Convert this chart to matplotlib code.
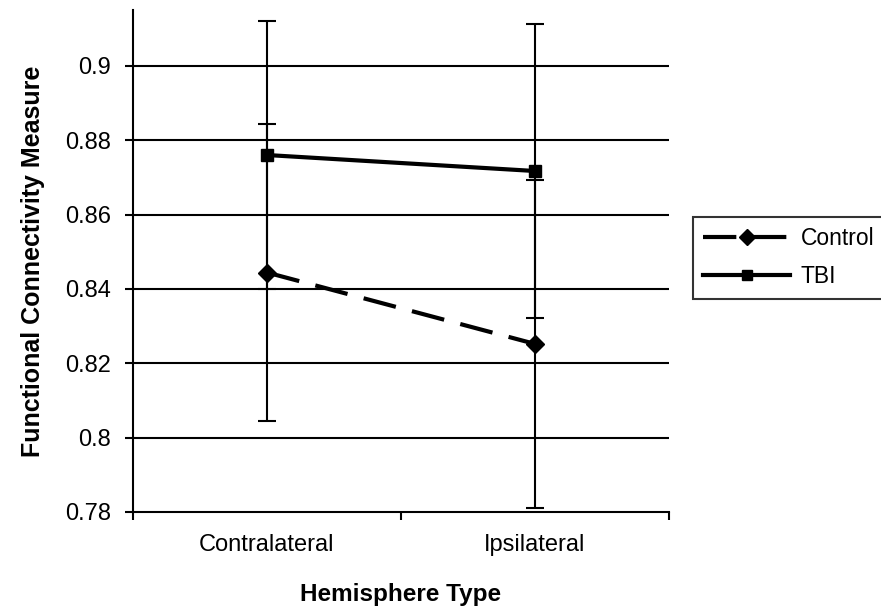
import numpy as np
import matplotlib
matplotlib.use("Agg")
import matplotlib.pyplot as plt

plt.rcParams['font.family'] = ['Liberation Sans', 'DejaVu Sans']

# Group means and error bar half-widths per hemisphere
hemispheres = ['Contralateral', 'Ipsilateral']
control_mean = [0.8444, 0.8252]
control_err = [0.040, 0.044]
tbi_mean = [0.876, 0.8717]
tbi_err = [0.036, 0.0396]
y_ticks = [0.78, 0.8, 0.82, 0.84, 0.86, 0.88, 0.9]

fig = plt.figure(figsize=(8.81, 6.12), dpi=100)
ax = fig.add_axes([133 / 881, 1 - 512 / 612, (669 - 133) / 881, (512 - 10) / 612])

x = np.arange(len(hemispheres)) + 0.5

# horizontal gridlines
for yv in y_ticks[1:]:
    ax.axhline(yv, color='black', lw=1.5, zorder=1)

ax.errorbar(x, control_mean, yerr=control_err, fmt='none', ecolor='black',
            elinewidth=1.5, capsize=6.5, capthick=1.5, zorder=2)
ax.errorbar(x, tbi_mean, yerr=tbi_err, fmt='none', ecolor='black',
            elinewidth=1.5, capsize=6.5, capthick=1.5, zorder=2)

ax.plot(x, control_mean, color='black', lw=3, dashes=(8, 4), marker='D',
        markersize=9, label='Control', zorder=3)
ax.plot(x, tbi_mean, color='black', lw=3, marker='s', markersize=8,
        label='TBI', zorder=3)

ax.set_xlim(0, 2)
ax.set_ylim(0.78, 0.915)
ax.set_yticks(y_ticks)
ax.set_yticklabels(['0.78', '0.8', '0.82', '0.84', '0.86', '0.88', '0.9'])
ax.set_xticks([0, 1, 2])
ax.set_xticklabels([])
ax.set_xticks(x, minor=True)
ax.set_xticklabels(hemispheres, minor=True)
ax.tick_params(axis='x', which='major', length=6, width=1.5, direction='out')
ax.tick_params(axis='x', which='minor', length=0, pad=16, labelsize=17)
ax.tick_params(axis='y', length=6, width=1.5, direction='out', pad=10, labelsize=17)

for side in ['top', 'right']:
    ax.spines[side].set_visible(False)
ax.spines['left'].set_linewidth(1.5)
ax.spines['bottom'].set_linewidth(1.5)

ax.set_ylabel('Functional Connectivity Measure', fontsize=18, fontweight='bold', labelpad=14)
fig.text(401 / 881, 1 - 595 / 612, 'Hemisphere Type', fontsize=17.5,
         fontweight='bold', ha='center', va='center')

leg = ax.legend(loc='upper left', bbox_to_anchor=(693 / 881, 1 - 217 / 612),
                bbox_transform=fig.transFigure, frameon=True, fancybox=False,
                edgecolor='black', fontsize=16.5, markerscale=0.95,
                handlelength=3.8, handletextpad=0.45, borderpad=0.45,
                labelspacing=0.66, borderaxespad=0)
leg.get_frame().set_linewidth(1.5)

fig.savefig('out.png', dpi=100, facecolor='white')
